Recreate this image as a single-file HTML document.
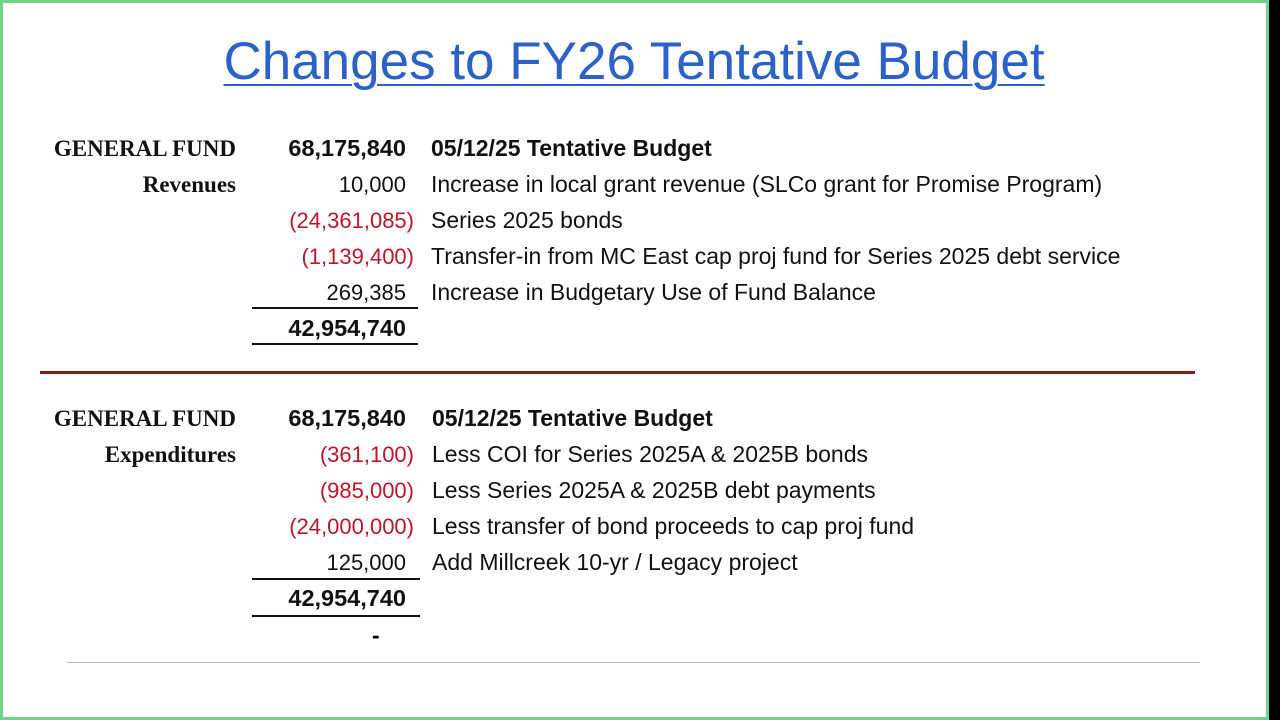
<!DOCTYPE html>
<html><head><meta charset="utf-8"><style>
body{margin:0;width:1280px;height:720px;overflow:hidden;background:#000;position:relative;font-family:"Liberation Sans",sans-serif}
#p{position:absolute;left:0;top:0;width:1263px;height:714px;background:#fff;border:3px solid #6fd486;}
.t{position:absolute;white-space:nowrap;line-height:1}
.title{left:0;width:1268px;text-align:center;top:35px;font-size:53px;color:#2a62c9;text-decoration:underline;text-decoration-thickness:2px;text-underline-offset:5px}
.lab{font-family:"Liberation Serif",serif;font-weight:bold;font-size:23px;right:1044px;text-align:right;color:#111}
.n{font-size:22px;right:866px;text-align:right;color:#111}
.n.b{font-size:23.5px}
.pos{padding-right:8px}
.r{color:#c0142a}
.b{font-weight:bold}
.d{font-size:23px;left:431px;color:#111}
.hl{position:absolute;height:2px;background:#111}
</style></head><body><div id="p"></div>
<div class="t title">Changes to FY26 Tentative Budget</div>

<div class="t lab" style="top:137px">GENERAL FUND</div>
<div class="t lab" style="top:173px">Revenues</div>
<div class="t n b pos" style="top:137px">68,175,840</div>
<div class="t n pos" style="top:174px">10,000</div>
<div class="t n r" style="top:210px">(24,361,085)</div>
<div class="t n r" style="top:246px">(1,139,400)</div>
<div class="t n pos" style="top:282px">269,385</div>
<div class="t n b pos" style="top:317px">42,954,740</div>
<div class="t d b" style="top:137px">05/12/25 Tentative Budget</div>
<div class="t d" style="top:173px">Increase in local grant revenue (SLCo grant for Promise Program)</div>
<div class="t d" style="top:209px">Series 2025 bonds</div>
<div class="t d" style="top:245px">Transfer-in from MC East cap proj fund for Series 2025 debt service</div>
<div class="t d" style="top:281px">Increase in Budgetary Use of Fund Balance</div>
<div class="hl" style="left:252px;width:166px;top:307px"></div>
<div class="hl" style="left:252px;width:166px;top:343px"></div>

<div class="hl" style="left:40px;width:1155px;top:371px;height:3px;background:#8b1a1a"></div>

<div class="t lab" style="top:407px">GENERAL FUND</div>
<div class="t lab" style="top:443px">Expenditures</div>
<div class="t n b pos" style="top:407px">68,175,840</div>
<div class="t n r" style="top:444px">(361,100)</div>
<div class="t n r" style="top:480px">(985,000)</div>
<div class="t n r" style="top:516px">(24,000,000)</div>
<div class="t n pos" style="top:552px">125,000</div>
<div class="t n b pos" style="top:587px">42,954,740</div>
<div class="t b" style="top:624px;left:372px;font-size:23px">-</div>
<div class="t d b" style="top:407px;left:432px">05/12/25 Tentative Budget</div>
<div class="t d" style="top:443px;left:432px">Less COI for Series 2025A &amp; 2025B bonds</div>
<div class="t d" style="top:479px;left:432px">Less Series 2025A &amp; 2025B debt payments</div>
<div class="t d" style="top:515px;left:432px">Less transfer of bond proceeds to cap proj fund</div>
<div class="t d" style="top:551px;left:432px">Add Millcreek 10-yr / Legacy project</div>
<div class="hl" style="left:252px;width:168px;top:578px"></div>
<div class="hl" style="left:252px;width:168px;top:615px"></div>
<div class="hl" style="left:67px;width:1133px;top:662px;height:1px;background:#bbb"></div>
</body></html>
